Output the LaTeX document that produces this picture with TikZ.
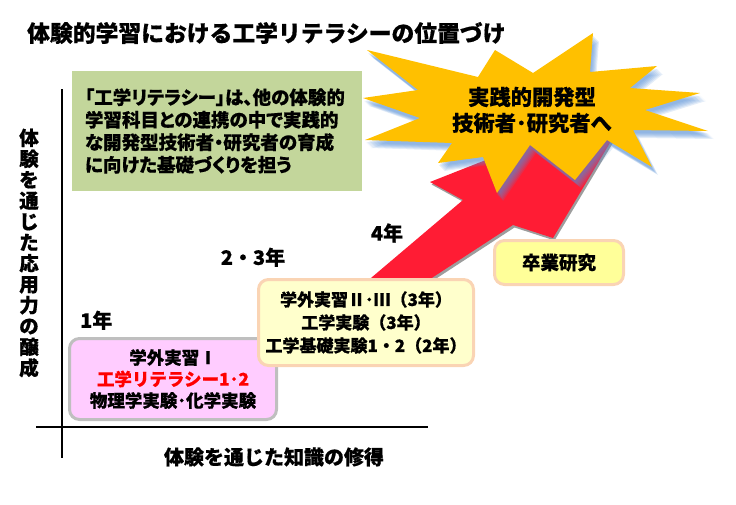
\documentclass[tikz,border=0pt]{standalone}
\usepackage{fontspec}
\setmainfont{Noto Sans CJK JP}[BoldFeatures={FakeBold=0.6}]
\newfontfamily\notefont{Noto Sans CJK JP}[RawFeature=+palt, BoldFeatures={FakeBold=0.6}]
\usepackage{xcolor}
\usepackage{tikz}
\usetikzlibrary{positioning,calc}
\definecolor{notefill}{RGB}{195,214,155}
\definecolor{firstfill}{RGB}{255,204,255}
\definecolor{firstedge}{RGB}{191,191,191}
\definecolor{midfill}{RGB}{255,255,204}
\definecolor{peachedge}{RGB}{250,212,180}
\definecolor{thesisfill}{RGB}{255,255,153}
\definecolor{arrowred}{RGB}{255,28,52}
\definecolor{starfill}{RGB}{255,192,0}
\definecolor{starglow}{RGB}{85,142,213}
\colorlet{litred}{red}
\tikzset{
    stagebox/.style={
        rectangle, rounded corners=10pt, line width=3pt, align=center,
        inner sep=0pt, font=\fontsize{17.5}{21.5}\selectfont\bfseries
    },
    firstbox/.style={
        stagebox, draw=firstedge, fill=firstfill,
        minimum width=207pt, minimum height=81pt
    },
    midbox/.style={
        stagebox, draw=peachedge, fill=midfill,
        minimum width=215pt, minimum height=86pt,
        font=\fontsize{17}{23}\selectfont\bfseries
    },
    thesisbox/.style={
        stagebox, draw=peachedge, fill=thesisfill,
        minimum width=129pt, minimum height=44pt,
        font=\fontsize{18.5}{20}\selectfont\bfseries
    },
    notebox/.style={
        rectangle, fill=notefill, align=left, text width=264pt,
        inner xsep=13pt, minimum height=120pt,
        font=\notefont\fontsize{18.5}{22.5}\selectfont\bfseries
    },
    yearlbl/.style={inner sep=0pt, font=\fontsize{20}{22}\selectfont\bfseries},
    axislbl/.style={inner sep=0pt, align=center, font=\bfseries},
    axisline/.style={line width=2pt, draw=black},
    bigarrow/.style={fill=arrowred},
    arrowshade/.style={fill=black!70, opacity=0.55},
    starshape/.style={fill=starfill},
    starshade/.style={fill=starglow, opacity=0.16}
}
\def\arrowpath{(345,300) -- (463,200) -- (430,182) -- (635,101)
    -- (553,238) -- (513,225) -- (398,300) -- cycle}
\def\starpath{(593,33) -- (590,72) -- (657,66) -- (630,88) -- (700,93)
    -- (645,110) -- (708,131) -- (633,130) -- (652,167) -- (607,140)
    -- (575,180) -- (530,145) -- (497,193) -- (483,157) -- (438,163)
    -- (452,143) -- (365,140) -- (420,118) -- (363,98) -- (418,90)
    -- (367,50) -- (478,77) -- (495,50) -- (533,73) -- cycle}
\begin{document}
\begin{tikzpicture}[x=1pt, y=-1pt, node distance=8pt and 12pt]
    \useasboundingbox (0,0) rectangle (736,504);
    % title
    \node[anchor=west, inner sep=0pt, font=\fontsize{22.8}{24}\selectfont\bfseries]
        (title) at (27,33) {体験的学習における工学リテラシーの位置づけ};
    % axes
    \coordinate (ytop) at (62,89);
    \coordinate (ybot) at (62,458);
    \coordinate (xleft) at (36,427);
    \coordinate (xright) at (428,427);
    \draw[axisline] (ytop) -- (ybot);
    \draw[axisline] (xleft) -- (xright);
    \node[axislbl, font=\fontsize{19.5}{20.9}\selectfont\bfseries] (ylbl) at (29,253)
        {体\\験\\を\\通\\じ\\た\\応\\用\\力\\の\\醸\\成};
    \node[axislbl, font=\fontsize{20}{22}\selectfont\bfseries] (xlbl) at (274,457)
        {体験を通じた知識の修得};
    % note
    \node[notebox] (note) at (217,131)
        {「工学リテラシー」は、他の体験的\\学習科目との連携の中で実践的\\な開発型技術者・研究者の育成\\に向けた基礎づくりを担う};
    % big arrow up to the star
    \fill[arrowshade, shift={(1.5,2.5)}] \arrowpath;
    \fill[bigarrow] \arrowpath;
    \foreach \d in {2,...,7}
        \fill[starshade, shift={(\d-1,\d+1)}] \starpath;
    \fill[starshape] \starpath;
    \node[align=center, inner sep=0pt, font=\fontsize{21.3}{26}\selectfont\bfseries]
        (goal) at (532,110) {実践的開発型\\技術者･研究者へ};
    % stages
    \node[firstbox] (first) at (173,379)
        {学外実習Ⅰ\\\textcolor{litred}{工学リテラシー1･2}\\物理学実験･化学実験};
    \node[midbox] (mid) at (366,322.5)
        {学外実習Ⅱ･Ⅲ（3年）\\工学実験（3年）\\工学基礎実験1・2（2年）};
    \node[thesisbox] (thesis) at (559,262.5) {卒業研究};
    % years
    \node[yearlbl, above right=7pt and 12pt of first.north west] (y1) {1年};
    \node[yearlbl, above=11pt of mid.north west, xshift=-4pt] (y23) {2・3年};
    \node[yearlbl] (y4) at (387,233) {4年};
\end{tikzpicture}
\end{document}
